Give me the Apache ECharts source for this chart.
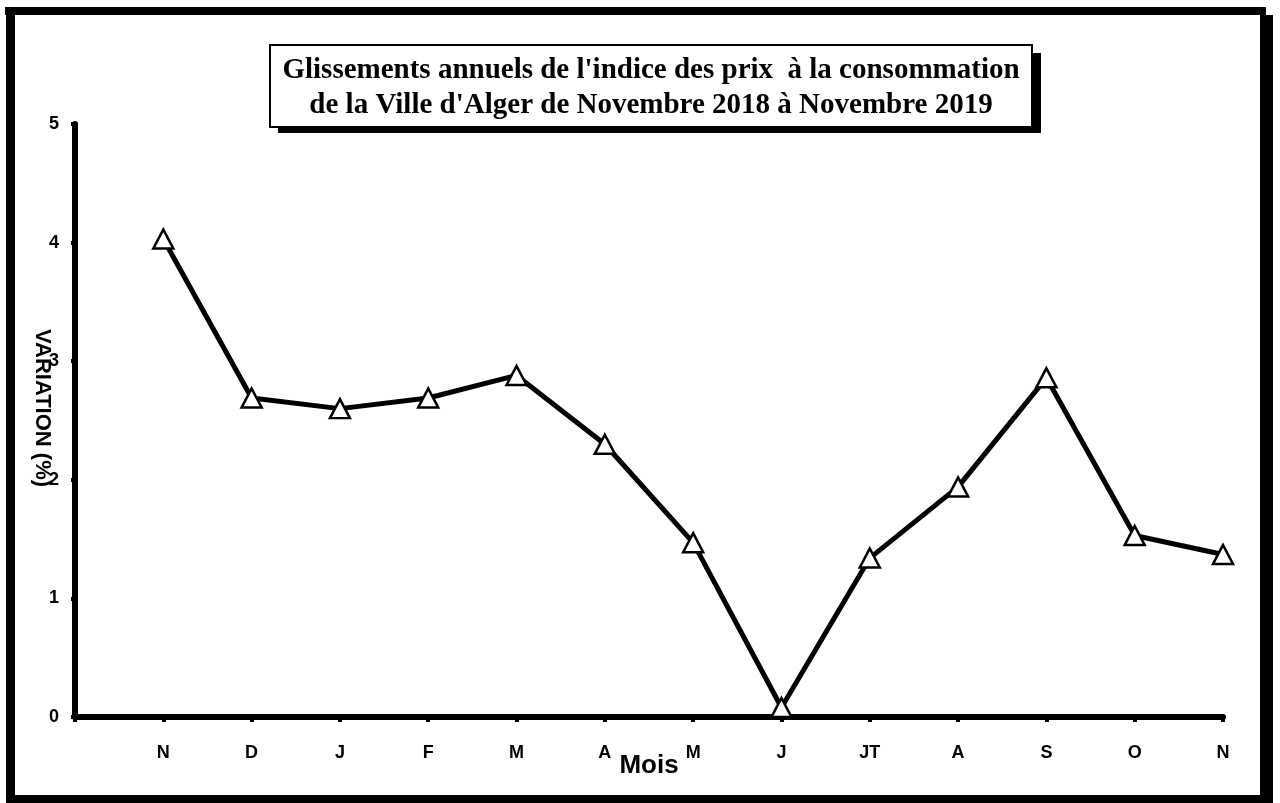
<!DOCTYPE html>
<html>
<head>
<meta charset="utf-8">
<script src="https://cdn.jsdelivr.net/npm/echarts@6/dist/echarts.min.js"></script>
<style>
  html, body { margin: 0; padding: 0; background: #fff; }
  #main { width: 1280px; height: 803px; }
</style>
</head>
<body>
<div id="main"></div>
<script>
// mois de novembre 2018 a novembre 2019 (le premier creneau reste vide)
const mois = ['', 'N', 'D', 'J', 'F', 'M', 'A', 'M', 'J', 'JT', 'A', 'S', 'O', 'N'];
const glissement = [null, 4.03, 2.69, 2.60, 2.69, 2.88, 2.30, 1.47, 0.08, 1.34, 1.94, 2.86, 1.53, 1.37];
const yTicks = [0, 1, 2, 3, 4, 5];

const titre = "Glissements annuels de l'indice des prix  à la consommation\nde la Ville d'Alger de Novembre 2018 à Novembre 2019";

const myechart = echarts.init(document.getElementById('main'));

let option = {
  backgroundColor: '#fff',
  animation: false,
  title: {
    text: titre,
    left: 651,
    top: 53,
    padding: 0,
    textAlign: 'center',
    textStyle: {
      fontFamily: 'Liberation Serif',
      fontWeight: 'bold',
      fontSize: 29,
      lineHeight: 35,
      color: '#000'
    }
  },
  graphic: [
    // cadre exterieur
    { type: 'rect', shape: { x: 5, y: 7, width: 1261, height: 8 }, style: { fill: '#000' } },
    { type: 'rect', shape: { x: 6, y: 7, width: 9, height: 796 }, style: { fill: '#000' } },
    { type: 'rect', shape: { x: 1260, y: 15, width: 13, height: 788 }, style: { fill: '#000' } },
    { type: 'rect', shape: { x: 6, y: 795, width: 1267, height: 8 }, style: { fill: '#000' } },
    // encadre du titre avec ombre
    { type: 'rect', shape: { x: 278, y: 53, width: 763, height: 80 }, style: { fill: '#000' } },
    { type: 'rect', shape: { x: 270, y: 45, width: 762, height: 82 }, style: { fill: '#fff', stroke: '#000', lineWidth: 2 } },
    // titre de l'axe vertical
    {
      type: 'text',
      x: 42,
      y: 408,
      rotation: -Math.PI / 2,
      z: 10,
      style: {
        text: 'VARIATION (%)',
        fill: '#000',
        font: 'bold 22px "Liberation Sans"',
        align: 'center',
        verticalAlign: 'middle'
      }
    }
  ],
  grid: {
    left: 75,
    right: 57,
    top: 124,
    bottom: 86
  },
  xAxis: {
    type: 'category',
    data: mois,
    boundaryGap: false,
    name: 'Mois',
    nameLocation: 'middle',
    nameMoveOverlap: false,
    nameGap: 36,
    nameTextStyle: {
      fontFamily: 'Liberation Sans',
      fontWeight: 'bold',
      fontSize: 26,
      color: '#000'
    },
    axisLine: { lineStyle: { color: '#000', width: 6 } },
    axisTick: { show: true, length: 5, lineStyle: { color: '#000', width: 4 } },
    axisLabel: {
      margin: 27,
      fontFamily: 'Liberation Sans',
      fontWeight: 'bold',
      fontSize: 18,
      color: '#000'
    },
    splitLine: { show: false }
  },
  yAxis: {
    type: 'value',
    min: yTicks[0],
    max: yTicks[yTicks.length - 1],
    interval: 1,
    axisLine: { show: true, lineStyle: { color: '#000', width: 6 } },
    axisTick: { show: true, length: 4, lineStyle: { color: '#000', width: 4 } },
    axisLabel: {
      margin: 16,
      fontFamily: 'Liberation Sans',
      fontWeight: 'bold',
      fontSize: 18,
      color: '#000'
    },
    splitLine: { show: false }
  },
  series: [
    {
      type: 'line',
      data: glissement,
      symbol: 'triangle',
      symbolSize: [20, 19],
      showAllSymbol: true,
      lineStyle: { color: '#000', width: 5 },
      itemStyle: { color: '#fff', borderColor: '#000', borderWidth: 2.5 },
      z: 1
    }
  ]
};

myechart.setOption(option);
</script>
</body>
</html>
